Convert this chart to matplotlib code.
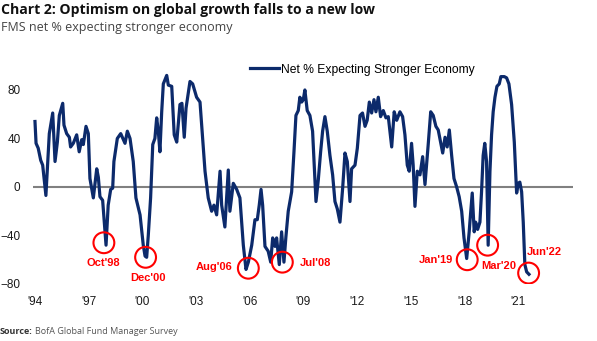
import matplotlib
matplotlib.use("Agg")
import matplotlib.pyplot as plt

# FMS net % expecting stronger economy (decimal years)
dates = [
    1994.00, 1994.06, 1994.18, 1994.32, 1994.43, 1994.61, 1994.80, 1994.99, 1995.12, 1995.25,
    1995.36, 1995.55, 1995.62, 1995.77, 1995.92, 1995.99, 1996.14, 1996.33, 1996.47, 1996.61,
    1996.70, 1996.85, 1996.98, 1997.07, 1997.26, 1997.45, 1997.54, 1997.63, 1997.78, 1997.97,
    1998.09, 1998.23, 1998.34, 1998.41, 1998.60, 1998.79, 1999.03, 1999.16, 1999.31, 1999.49,
    1999.64, 1999.87, 2000.05, 2000.15, 2000.24, 2000.33, 2000.46, 2000.58, 2000.70, 2000.80,
    2000.89, 2000.98, 2001.08, 2001.17, 2001.36, 2001.45, 2001.64, 2001.78, 2001.92, 2002.10,
    2002.21, 2002.34, 2002.44, 2002.66, 2002.81, 2003.03, 2003.22, 2003.50, 2003.68, 2003.87,
    2004.00, 2004.15, 2004.34, 2004.43, 2004.61, 2004.80, 2004.89, 2005.08, 2005.27, 2005.45,
    2005.64, 2005.79, 2005.92, 2006.11, 2006.29, 2006.42, 2006.53, 2006.63, 2006.72, 2006.85,
    2007.03, 2007.17, 2007.28, 2007.41, 2007.50, 2007.65, 2007.78, 2007.91, 2008.02, 2008.15,
    2008.34, 2008.47, 2008.58, 2008.71, 2008.80, 2008.90, 2008.99, 2009.08, 2009.21, 2009.36,
    2009.51, 2009.70, 2009.83, 2009.96, 2010.07, 2010.20, 2010.33, 2010.48, 2010.63, 2010.76,
    2010.89, 2011.04, 2011.19, 2011.32, 2011.45, 2011.60, 2011.69, 2011.88, 2012.01, 2012.16,
    2012.30, 2012.44, 2012.56, 2012.68, 2012.81, 2012.94, 2013.05, 2013.18, 2013.31, 2013.46,
    2013.61, 2013.74, 2013.93, 2014.07, 2014.21, 2014.39, 2014.54, 2014.67, 2014.80, 2014.91,
    2015.04, 2015.13, 2015.23, 2015.36, 2015.51, 2015.66, 2015.79, 2015.97, 2016.11, 2016.25,
    2016.40, 2016.53, 2016.66, 2016.78, 2016.91, 2017.03, 2017.15, 2017.28, 2017.41, 2017.56,
    2017.70, 2017.84, 2017.97, 2018.12, 2018.26, 2018.30, 2018.43, 2018.54, 2018.62, 2018.73,
    2018.86, 2018.95, 2019.04, 2019.13, 2019.23, 2019.32, 2019.42, 2019.51, 2019.60, 2019.70,
    2019.81, 2019.94, 2020.03, 2020.22, 2020.35, 2020.48, 2020.63, 2020.78, 2020.91, 2021.00,
    2021.09, 2021.19, 2021.28, 2021.37, 2021.47, 2021.60,
]
net_pct = [
    54, 36, 32, 22, 18, -7, 44, 61, 21, 37,
    59, 69, 51, 44, 41, 33, 36, 43, 29, 39,
    35, 50, 44, 7, -9, 15, 8, -8, -11, -48,
    -15, -2, -1, 21, 40, 44, 36, 46, 40, 21,
    -9, -23, -48, -57, -58, -40, -9, 35, 40, 57,
    46, 29, 62, 85, 92, 84, 83, 43, 37, 68,
    69, 41, 65, 87, 85, 74, 70, 13, -9, -20,
    -15, -23, 13, -15, -33, 14, -20, 3, -2, -9,
    -48, -68, -62, -48, -27, -27, -15, -2, -15, -49,
    -53, -62, -42, -49, -42, -64, -37, -62, -41, -20,
    -4, 29, 59, 63, 74, 70, 72, 80, 63, 59,
    46, -12, 6, 29, 46, 58, 46, 26, 10, -12,
    -18, -29, -1, 28, 21, -12, 15, 18, 32, 59,
    61, 50, 55, 70, 61, 72, 62, 74, 58, 63,
    57, 58, 33, 62, 55, 62, 58, 43, 18, 13,
    36, 18, -16, 13, 10, 25, 2, 35, 62, 59,
    50, 47, 37, 28, 41, 33, 47, 26, 7, 0,
    -8, -20, -42, -59, -37, -29, -5, -37, -29, -35,
    -29, -4, 26, 36, 21, -48, 13, 43, 62, 74,
    83, 85, 91, 91, 90, 85, 68, 37, -5, 3,
    4, -4, -29, -64, -70, -72,
]

year_ticks = [1994, 1997, 2000, 2003, 2006, 2009, 2012, 2015, 2018, 2021]
year_labels = ["'94", "'97", "'00", "'03", "'06", "'09", "'12", "'15", "'18", "'21"]
y_ticks = [-80, -40, 0, 40, 80]

# lows that are circled on the chart
low_names = ["Oct'98", "Dec'00", "Aug'06", "Jul'08", "Jan'19", "Mar'20", "Jun'22"]
low_x = [1997.85, 2000.18, 2005.92, 2007.82, 2018.15, 2019.29, 2021.58]
low_y = [-46, -58, -67, -62, -60, -48, -71]
# label placement (x, y, horizontal alignment)
label_x = [1997.82, 2000.30, 2005.04, 2008.77, 2017.37, 2018.95, 2021.50]
label_y = [-62.4, -75.3, -65.7, -62.4, -60.2, -64.9, -53.9]
label_ha = ["center", "center", "right", "left", "right", "left", "left"]

NAVY = "#0c2a6b"
RED = "#ff0000"

fig = plt.figure(figsize=(5.97, 3.41), dpi=100)
ax = fig.add_axes([0.0553, 0.1672, 0.9045, 0.6401])

ax.axhline(0, color="#808080", lw=1.5, zorder=1)
ax.plot(dates, net_pct, color=NAVY, lw=2.3, zorder=2,
        label="Net % Expecting Stronger Economy")

ax.scatter(low_x, low_y, s=225, facecolors="none", edgecolors=RED,
           linewidths=1.5, zorder=3)
for name, x, y, ha in zip(low_names, label_x, label_y, label_ha):
    ax.text(x, y, name, color=RED, fontsize=8, fontweight="bold",
            family="Liberation Sans", ha=ha, va="center")

ax.set_xlim(1993.89, 2024.06)
ax.set_ylim(-80, 100)
ax.set_xticks(year_ticks)
ax.set_xticklabels(year_labels)
ax.set_yticks(y_ticks)
ax.tick_params(axis="both", length=0, labelsize=8.5, labelcolor="#1a1a1a")
ax.tick_params(axis="x", pad=9)
ax.tick_params(axis="y", pad=9)
for lab in ax.get_xticklabels() + ax.get_yticklabels():
    lab.set_family("Liberation Sans")
for s in ax.spines.values():
    s.set_visible(False)

leg = ax.legend(loc="upper left", bbox_to_anchor=(0.381, 1.06), frameon=False,
                handlelength=2.4, handletextpad=0.15,
                prop={"family": "Liberation Sans", "size": 8.75})

fig.text(0.002, 0.972, "Chart 2: Optimism on global growth falls to a new low",
         fontsize=10.1, fontweight="bold", family="Open Sans", color="#111111",
         va="center", ha="left")
fig.text(0.002, 0.918, "FMS net % expecting stronger economy",
         fontsize=9, family="Open Sans", color="#444444", va="center", ha="left")
fig.text(0.0, 0.029, "Source:", fontsize=6.5, fontweight="bold",
         family="Open Sans", color="#333333", va="center", ha="left")
fig.text(0.058, 0.029, "BofA Global Fund Manager Survey", fontsize=6.5,
         family="Open Sans", color="#555555", va="center", ha="left")

fig.savefig("out.png", dpi=100)
